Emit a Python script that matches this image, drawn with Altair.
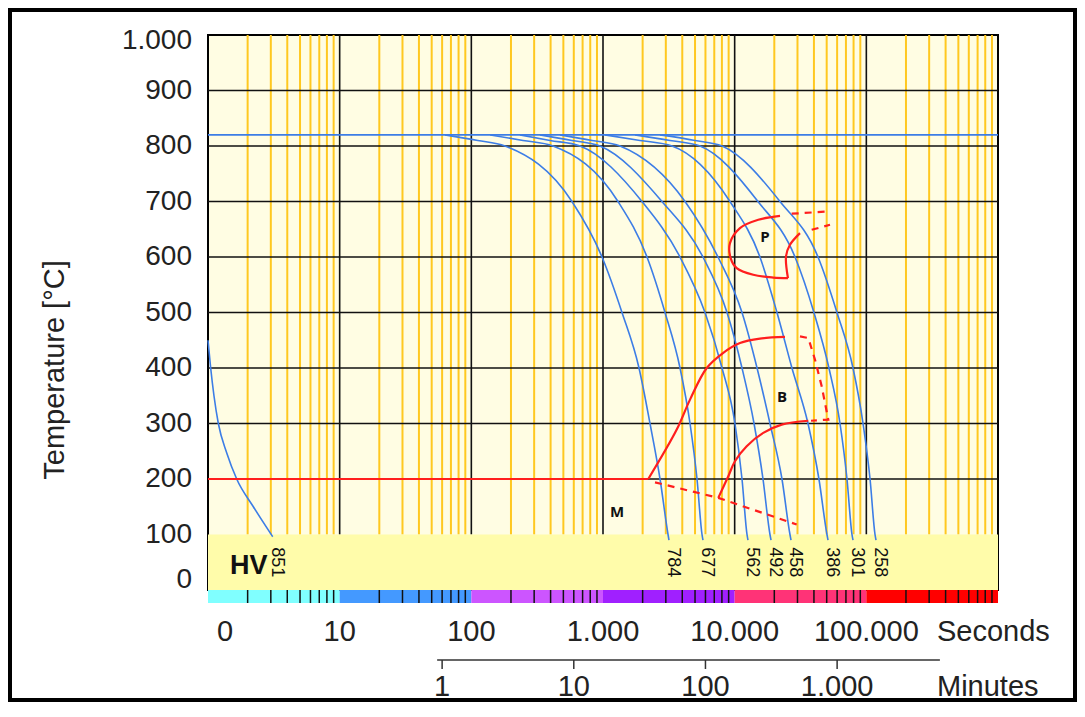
import altair as alt
import pandas as pd

# ---------------- data ----------------
# cooling curves: time (s) at which each curve reaches the listed temperatures
temps = [820, 810, 800, 700, 600, 500, 400, 300, 200, 100, 90]
t_784 = [63, 112, 180, 581, 983, 1394, 1877, 2275, 2711, 3118, 3170]
t_677 = [139, 247, 417, 1300, 2159, 2958, 3846, 4581, 5176, 5649, 5745]
t_562 = [234, 396, 669, 1977, 3846, 5954, 8017, 10050, 11370, 12410, 12620]
t_492 = [332, 581, 948, 2805, 5745, 8750, 11370, 14030, 16410, 18540, 18880]
t_458 = [471, 825, 1346, 4198, 7470, 11370, 14790, 18540, 22870, 26300, 26790]
t_386 = [1035, 1910, 3342, 9210, 15560, 20960, 27230, 36050, 43650, 50230, 51170]
t_301 = [1750, 3228, 5455, 15030, 28730, 40000, 52000, 63100, 71300, 77800, 79200]
t_258 = [2710, 5000, 8017, 22090, 42960, 59840, 79200, 94400, 106700, 116400, 118400]
hv_values = [784, 677, 562, 492, 458, 386, 301, 258]
t_851 = [1.0, 1.048, 1.11, 1.198, 1.388, 1.652, 2.21, 3.10]
T_851 = [450, 400, 350, 300, 247, 200, 150, 96]
austenitizing_T = 820

# transformation lines (red)
ms_t = [1, 2208]
ms_T = [200, 200]
b_up_t = [2208, 3630, 4580, 6135, 8150, 10970, 15560, 24100]
b_up_T = [200, 289, 343, 400, 427, 445, 453, 456]
b_low_t = [7510, 8950, 10050, 12340, 16490, 22760, 36260]
b_low_T = [166, 205, 232, 259, 283, 298, 305]
p_left_t = [22100, 15110, 10970, 9210, 9320, 10360, 13840, 19650, 25400]
p_left_T = [674, 667, 652, 625, 598, 580, 568, 563, 562]
p_right_t = [25400, 24550, 26300, 31340]
p_right_T = [562, 601, 622, 643]
# dashed parts
p_d1_t = [27100, 51170]
p_d1_T = [678, 682]
p_d2_t = [38450, 52970]
p_d2_T = [649, 658]
b_d_t = [31340, 36260, 40760, 45810, 51400, 38000]
b_d_T = [457, 454, 415, 367, 307, 305]
m_d_t = [2483, 7510, 29580]
m_d_T = [194, 166, 118]

phase_names = ["P", "B", "M"]
phase_t = [17000, 22860, 1277]
phase_T = [636, 348, 141]

# axes / decorations
y_ticks = [0, 100, 200, 300, 400, 500, 600, 700, 800, 900, 1000]
y_labels = ["0", "100", "200", "300", "400", "500", "600", "700", "800", "900", "1.000"]
sec_ticks = [1, 10, 100, 1000, 10000, 100000]
sec_labels = ["0", "10", "100", "1.000", "10.000", "100.000"]
min_ticks = [1, 10, 100, 1000]
min_labels = ["1", "10", "100", "1.000"]
decade_start = [1, 10, 100, 1000, 10000, 100000]
decade_colors = ["#80FFFF", "#4499FF", "#CC55FF", "#A020FF", "#FF3377", "#FF0000"]
major_T = [200, 300, 400, 500, 600, 700, 800, 900]
major_t = [10, 100, 1000, 10000, 100000]
t_min, t_max = 1, 1000000
minutes_line = [55, 362000]

# ---------------- styles ----------------
FONT = "Liberation Sans"
BLUE = "#3C7DE6"
RED = "#FF1E1E"
YELLOW = "#FFC820"
XS = alt.Scale(type="log", domain=[t_min, t_max], nice=False)
YS = alt.Scale(domain=[0, 1000], nice=False, zero=False)


def X(f):
    return alt.X(f, type="quantitative", scale=XS, axis=None)


def Y(f):
    return alt.Y(f, type="quantitative", scale=YS, axis=None)


one = pd.DataFrame({"k": [0]})

# ---------------- tables ----------------
curve_rows = []
for hv, ts in zip(hv_values, [t_784, t_677, t_562, t_492, t_458, t_386, t_301, t_258]):
    for i, (t, T) in enumerate(zip(ts, temps)):
        curve_rows.append({"curve": str(hv), "i": i, "t": t, "T": T})
for i, (t, T) in enumerate(zip(t_851, T_851)):
    curve_rows.append({"curve": "851", "i": i, "t": t, "T": T})
curves = pd.DataFrame(curve_rows)

ends = pd.DataFrame({
    "hv": [str(v) for v in hv_values] + ["851"],
    "t": [ts[-1] for ts in [t_784, t_677, t_562, t_492, t_458, t_386, t_301, t_258]] + [t_851[-1]],
    "T": [88] * 9,
})


def seg_table(segs):
    rows = []
    for name, ts, Ts in segs:
        for i, (t, T) in enumerate(zip(ts, Ts)):
            rows.append({"seg": name, "i": i, "t": t, "T": T})
    return pd.DataFrame(rows)


red_lin = seg_table([("ms", ms_t, ms_T)])
red_smooth = seg_table([("bup", b_up_t, b_up_T), ("blow", b_low_t, b_low_T),
                        ("pl", p_left_t, p_left_T), ("pr", p_right_t, p_right_T)])
red_dash = seg_table([("pd1", p_d1_t, p_d1_T), ("pd2", p_d2_t, p_d2_T),
                      ("bd", b_d_t, b_d_T), ("md", m_d_t, m_d_T)])

minor = pd.DataFrame({"t": [m * d for d in decade_start for m in range(2, 10)], "T0": 100, "T1": 1000})
majv = pd.DataFrame({"t": major_t, "T0": 100, "T1": 1000})
majh = pd.DataFrame({"T": major_T, "t0": t_min, "t1": t_max})
aus = pd.DataFrame({"T": [austenitizing_T], "t0": [t_min], "t1": [t_max]})
band = pd.DataFrame({"t0": [t_min], "t1": [t_max], "T0": [0], "T1": [100]})
bar = pd.DataFrame({"t0": decade_start, "t1": [d * 10 for d in decade_start], "c": decade_colors})
ylab = pd.DataFrame({"T": y_ticks, "lab": y_labels})
slab = pd.DataFrame({"t": sec_ticks, "lab": sec_labels})
mlab = pd.DataFrame({"t": [m * 60 for m in min_ticks], "lab": min_labels})
mline = pd.DataFrame({"t0": [minutes_line[0]], "t1": [minutes_line[1]]})
phases = pd.DataFrame({"t": phase_t, "T": phase_T, "lab": phase_names})
hvlab = pd.DataFrame({"t": [1.47], "T": [44], "lab": ["HV"]})

# ---------------- layers ----------------
layers = []
layers.append(alt.Chart(minor).mark_rule(color=YELLOW, strokeWidth=2).encode(
    x=X("t"), y=Y("T0"), y2="T1"))
layers.append(alt.Chart(majh).mark_rule(color="#111111", strokeWidth=1.6).encode(
    y=Y("T"), x=X("t0"), x2="t1"))
layers.append(alt.Chart(majv).mark_rule(color="#111111", strokeWidth=1.6).encode(
    x=X("t"), y=Y("T0"), y2="T1"))
layers.append(alt.Chart(band).mark_rect(color="#FFFCAA").encode(
    x=X("t0"), x2="t1", y=Y("T0"), y2="T1"))
# colour bar under the plot
layers.append(alt.Chart(bar).mark_rect().encode(
    x=X("t0"), x2="t1", y=alt.value(555), y2=alt.value(568),
    color=alt.Color("c:N", scale=None)))
layers.append(alt.Chart(minor).mark_rule(color="#111111", strokeWidth=1.5).encode(
    x=X("t"), y=alt.value(555), y2=alt.value(568)))
# austenitizing line and cooling curves
layers.append(alt.Chart(aus).mark_rule(color=BLUE, strokeWidth=1.6).encode(
    y=Y("T"), x=X("t0"), x2="t1"))
layers.append(alt.Chart(curves).mark_line(color=BLUE, strokeWidth=1.6, interpolate="monotone").encode(
    x=X("t"), y=Y("T"), detail="curve:N", order="i:Q"))
# red transformation lines
layers.append(alt.Chart(red_lin).mark_line(color=RED, strokeWidth=2.2).encode(
    x=X("t"), y=Y("T"), detail="seg:N", order="i:Q"))
layers.append(alt.Chart(red_smooth).mark_line(color=RED, strokeWidth=2.2, interpolate="catmull-rom").encode(
    x=X("t"), y=Y("T"), detail="seg:N", order="i:Q"))
layers.append(alt.Chart(red_dash).mark_line(color=RED, strokeWidth=2.2, strokeDash=[7, 6]).encode(
    x=X("t"), y=Y("T"), detail="seg:N", order="i:Q"))
# labels inside plot
layers.append(alt.Chart(phases).mark_text(font="Open Sans", fontWeight="bold", fontSize=15, color="#111111").encode(
    x=X("t"), y=Y("T"), text="lab:N"))
layers.append(alt.Chart(hvlab).mark_text(font=FONT, fontWeight="bold", fontSize=27, align="left", color="#111111").encode(
    x=X("t"), y=Y("T"), text="lab:N"))
layers.append(alt.Chart(ends).mark_text(font=FONT, fontSize=18, angle=90, align="left", baseline="middle",
                                        dx=6, dy=-4, color="#111111").encode(
    x=X("t"), y=Y("T"), text="hv:N"))
# y axis labels and title
layers.append(alt.Chart(ylab[(ylab["T"] > 0) & (ylab["T"] < 1000)]).mark_text(
    font=FONT, fontSize=28, align="right", baseline="middle", color="#222222").encode(
    x=alt.value(-16), y=Y("T"), text="lab:N"))
layers.append(alt.Chart(ylab[ylab["T"] == 0]).mark_text(
    font=FONT, fontSize=28, align="right", baseline="middle", dy=-10, color="#222222").encode(
    x=alt.value(-16), y=Y("T"), text="lab:N"))
layers.append(alt.Chart(ylab[ylab["T"] == 1000]).mark_text(
    font=FONT, fontSize=28, align="right", baseline="middle", dy=6, color="#222222").encode(
    x=alt.value(-16), y=Y("T"), text="lab:N"))
layers.append(alt.Chart(one).mark_text(font=FONT, fontSize=29, angle=270, color="#222222",
                                       text="Temperature [°C]").encode(
    x=alt.value(-153), y=alt.value(335)))
# seconds axis
layers.append(alt.Chart(slab[slab["t"] > 1]).mark_text(font=FONT, fontSize=29, color="#222222").encode(
    x=X("t"), y=alt.value(597), text="lab:N"))
layers.append(alt.Chart(slab[slab["t"] == 1]).mark_text(font=FONT, fontSize=29, dx=17, color="#222222").encode(
    x=X("t"), y=alt.value(597), text="lab:N"))
layers.append(alt.Chart(one).mark_text(font=FONT, fontSize=29, align="left", color="#222222",
                                       text="Seconds").encode(
    x=alt.value(729), y=alt.value(597)))
# minutes axis
layers.append(alt.Chart(mline).mark_rule(color="#333333", strokeWidth=1.5).encode(
    x=X("t0"), x2="t1", y=alt.value(625)))
layers.append(alt.Chart(mlab).mark_rule(color="#333333", strokeWidth=1.5).encode(
    x=X("t"), y=alt.value(625), y2=alt.value(634)))
layers.append(alt.Chart(mlab).mark_text(font=FONT, fontSize=29, color="#222222").encode(
    x=X("t"), y=alt.value(652), text="lab:N"))
layers.append(alt.Chart(one).mark_text(font=FONT, fontSize=29, align="left", color="#222222",
                                       text="Minutes").encode(
    x=alt.value(729), y=alt.value(652)))
# outer frame
layers.append(alt.Chart(one).mark_rect(filled=False, stroke="#000000", strokeWidth=4).encode(
    x=alt.value(-198), x2=alt.value(867), y=alt.value(-25), y2=alt.value(665)))

chart = alt.layer(*layers).properties(
    width=790, height=555,
    padding={"left": 200, "top": 27, "right": 79, "bottom": 112},
    autosize=alt.AutoSizeParams(type="none"),
).configure_view(fill="#FFFDE3", stroke="#000000", strokeWidth=2)

chart.save("out.html", embed_options={"renderer": "svg", "actions": False})
